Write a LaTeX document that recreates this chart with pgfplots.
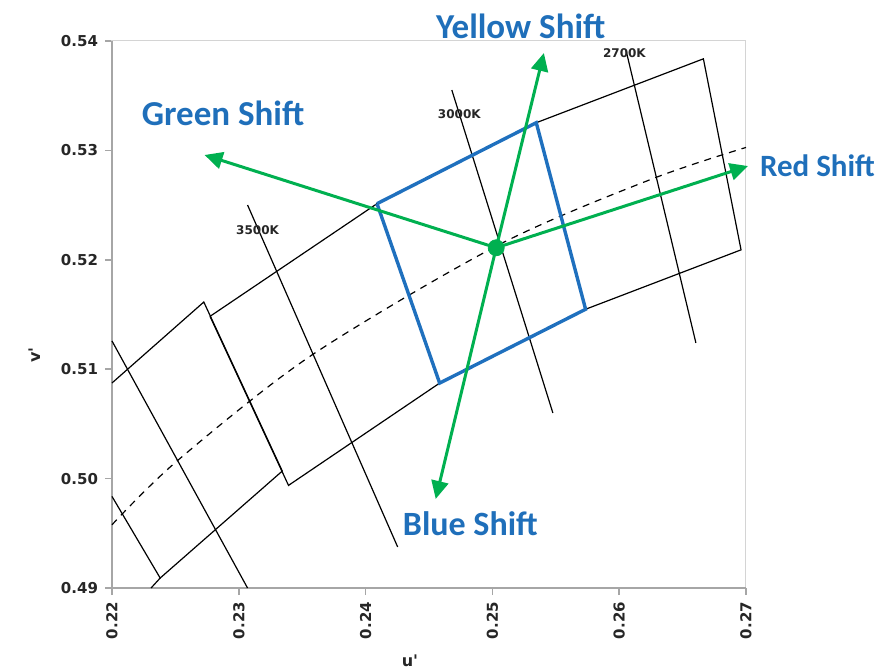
\documentclass[border=0pt]{standalone}
\usepackage{pgfplots}
\pgfplotsset{compat=1.18}
\usepackage{fontspec}
\usetikzlibrary{arrows.meta}
\newfontfamily\dvs{DejaVu Sans}
\newfontfamily\carl{Carlito}
\definecolor{shiftblue}{HTML}{1F6FBA}
\definecolor{quadblue}{HTML}{1F70BE}
\definecolor{shiftgreen}{HTML}{00B050}
\definecolor{axgray}{HTML}{A6A6A6}
\definecolor{framegray}{HTML}{D4D4D4}
\definecolor{ticktext}{HTML}{262626}
\begin{document}
\begin{tikzpicture}
\useasboundingbox (-56pt,-40.5pt) rectangle (382.5pt,294pt);
\begin{axis}[
  scale only axis, width=317pt, height=273.5pt,
  xmin=0.22, xmax=0.27, ymin=0.49, ymax=0.54,
  xtick={0.22,0.23,0.24,0.25,0.26,0.27},
  ytick={0.49,0.50,0.51,0.52,0.53,0.54},
  clip=false,
  axis line style={draw=framegray, line width=0.5pt},
  tick style={draw=axgray, line width=0.8pt},
  tick align=outside, major tick length=3.5pt,
  xtick pos=bottom, ytick pos=left,
  tick label style={font=\dvs\bfseries\fontsize{7.5}{9}\selectfont, text=ticktext},
  xticklabel style={rotate=90, anchor=east},
  /pgf/number format/.cd, fixed, fixed zerofill, precision=2, assume math mode=true,
]
% axis lines left/bottom
\draw[axgray, line width=1pt] (rel axis cs:0,1) -- (rel axis cs:0,0) -- (rel axis cs:1,0);

% ANSI quadrangles (black)
\addplot[black, line width=0.6pt] coordinates {(0.25346,0.53253) (0.26664,0.53837) (0.26961,0.52091) (0.25735,0.51548) (0.25346,0.53253)};
\addplot[black, line width=0.6pt] coordinates {(0.24090,0.52513) (0.25346,0.53253) (0.25735,0.51548) (0.24584,0.50873) (0.24090,0.52513)};
\addplot[black, line width=0.6pt] coordinates {(0.22773,0.51483) (0.24090,0.52513) (0.24584,0.50873) (0.23392,0.49938) (0.22773,0.51483)};
\addplot[black, line width=0.6pt] coordinates {(0.2200,0.50874) (0.22724,0.51614) (0.23343,0.50069) (0.22380,0.49091) (0.2200,0.49837)};
\addplot[black, line width=0.6pt] coordinates {(0.22380,0.49091) (0.22308,0.4900)};

% isotherms
\addplot[black, line width=0.6pt] coordinates {(0.26053,0.53918) (0.26605,0.51240)};
\addplot[black, line width=0.6pt] coordinates {(0.24680,0.53552) (0.25477,0.50600)};
\addplot[black, line width=0.6pt] coordinates {(0.23069,0.52501) (0.24253,0.49375)};
\addplot[black, line width=0.6pt] coordinates {(0.2200,0.51258) (0.23069,0.4900)};

% Planckian locus
\addplot[black, line width=0.6pt, dash pattern=on 3.5pt off 3pt, smooth] coordinates {
 (0.2200,0.49578) (0.22513,0.50161) (0.23572,0.51126) (0.25054,0.52139) (0.26252,0.52736) (0.2700,0.53027)};

% blue 3000K quad
\addplot[quadblue, line width=1.7pt] coordinates {(0.24090,0.52513) (0.25346,0.53253) (0.25735,0.51548) (0.24584,0.50873) (0.24090,0.52513)};

% green arrows
\addplot[shiftgreen, line width=1.5pt, -{Triangle[length=9pt,width=8.5pt]}] coordinates {(0.2503,0.5211) (0.22730,0.52958)};
\addplot[shiftgreen, line width=1.5pt, -{Triangle[length=9pt,width=8.5pt]}] coordinates {(0.2503,0.5211) (0.25406,0.53890)};
\addplot[shiftgreen, line width=1.5pt, -{Triangle[length=9pt,width=8.5pt]}] coordinates {(0.2503,0.5211) (0.27016,0.52857)};
\addplot[shiftgreen, line width=1.5pt, -{Triangle[length=9pt,width=8.5pt]}] coordinates {(0.2503,0.5211) (0.24553,0.49814)};
\addplot[shiftgreen, only marks, mark=*, mark size=4pt, mark options={fill=shiftgreen, draw=shiftgreen}] coordinates {(0.2503,0.5211)};

% CCT labels
\node[anchor=base, font=\dvs\bfseries\fontsize{6}{7}\selectfont, text=ticktext, inner sep=0pt] at (axis cs:0.24739,0.53287) {3000K};
\node[anchor=base, font=\dvs\bfseries\fontsize{6}{7}\selectfont, text=ticktext, inner sep=0pt] at (axis cs:0.26041,0.53845) {2700K};
\node[anchor=base, font=\dvs\bfseries\fontsize{6}{7}\selectfont, text=ticktext, inner sep=0pt] at (axis cs:0.23148,0.52227) {3500K};

% Shift labels
\node[anchor=base, font=\carl\bfseries\fontsize{17.5}{20}\selectfont, text=shiftblue, inner sep=0pt] at (axis cs:0.25224,0.54027) {Yellow Shift};
\node[anchor=base, font=\carl\bfseries\fontsize{17.5}{20}\selectfont, text=shiftblue, inner sep=0pt] at (axis cs:0.22876,0.53232) {Green Shift};
\node[anchor=base east, font=\carl\bfseries\fontsize{15.5}{18}\selectfont, text=shiftblue, inner sep=0pt] at (axis cs:0.28020,0.52757) {Red Shift};
\node[anchor=base, font=\carl\bfseries\fontsize{17}{20}\selectfont, text=shiftblue, inner sep=0pt] at (axis cs:0.24826,0.49484) {Blue Shift};

% axis labels
\node[rotate=90, font=\dvs\bfseries\fontsize{8}{10}\selectfont, text=ticktext] at (rel axis cs:-0.1215,0.426) {v'};
\node[font=\dvs\bfseries\fontsize{8}{10}\selectfont, text=ticktext] at (rel axis cs:0.470,-0.1335) {u'};
\end{axis}
\end{tikzpicture}
\end{document}
